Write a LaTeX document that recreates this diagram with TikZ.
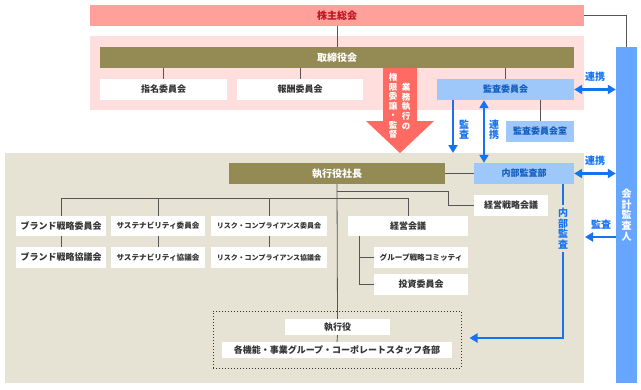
\documentclass[tikz,border=0pt]{standalone}
\usepackage{fontspec}
\setmainfont{Noto Sans CJK JP}
\usetikzlibrary{arrows.meta,positioning}
\definecolor{GSalmon}{RGB}{255,160,154}
\definecolor{GPink}{RGB}{255,222,222}
\definecolor{GBeige}{RGB}{230,226,212}
\definecolor{GOlive}{RGB}{148,138,84}
\definecolor{GLBlue}{RGB}{158,200,250}
\definecolor{GBlue}{RGB}{22,115,240}
\definecolor{GSky}{RGB}{102,166,255}
\definecolor{GRed}{RGB}{255,107,99}
\definecolor{GDRed}{RGB}{192,20,30}
\definecolor{GText}{RGB}{51,51,51}
\definecolor{GLine}{RGB}{85,85,85}

\begin{document}
\begin{tikzpicture}[
    x=1pt, y=-1pt,
    bar/.style={
      fill=GOlive,
      text=white,
      inner sep=0pt,
      minimum height=21pt,
      font=\bfseries\fontsize{10}{12}\selectfont
    },
    wbox/.style={
      fill=white,
      text=GText,
      inner sep=0pt,
      minimum height=21pt,
      font=\bfseries\fontsize{9}{11}\selectfont
    },
    bbox/.style={
      wbox,
      fill=GLBlue,
      text=GBlue!80!black
    },
    small/.style={font=\bfseries\fontsize{7.6}{9}\selectfont},
    link/.style={draw=GLine, line width=0.8pt},
    barrow/.style={draw=GBlue, line width=2.6pt, -{Triangle[length=8pt,width=9pt]}},
    dbarrow/.style={draw=GBlue, line width=2.6pt, {Triangle[length=8pt,width=9pt]}-{Triangle[length=8pt,width=9pt]}},
    blabel/.style={text=GBlue, inner sep=0pt, align=center, font=\bfseries\fontsize{10}{10}\selectfont}
  ]
    \fill[white] (0,0) rectangle (641,389);
    \useasboundingbox (0,0) rectangle (641,389);
    \fill[GPink] (90,36) rectangle (584,110);
    \fill[GBeige] (5,153) rectangle (584,383);

    \node[fill=GSalmon, text=GDRed, inner sep=0pt, minimum width=494pt, minimum height=21pt,
      font=\bfseries\fontsize{10}{12}\selectfont] (holders) at (337,15.5) {株主総会};
    \node[bar, minimum width=474pt] (board) at (337,57.5) {取締役会};
    \node[wbox, minimum width=127pt] (nominate) at (163.5,89.5) {指名委員会};
    \node[wbox, minimum width=126pt] (reward) at (300,89.5) {報酬委員会};
    \node[bbox, minimum width=137pt] (auditcom) at (505.5,89.5) {監査委員会};
    \node[bbox, minimum width=68pt] (auditroom) at (540,131.5) {監査委員会室};
    \node[fill=GSky, text=white, inner sep=0pt, minimum width=21pt, minimum height=336pt, align=center,
      font=\bfseries\fontsize{10}{10.8}\selectfont] (auditor) at (626.5,215) {会\\計\\監\\査\\人};

    \node[bar, minimum width=216pt] (president) at (337,173.5) {執行役社長};
    \node[bbox, minimum width=100pt] (internal) at (524,173.5) {内部監査部};
    \node[wbox, minimum width=74pt] (strategy) at (511,205.5) {経営戦略会議};
    \node[wbox, minimum width=90pt, minimum height=20pt] (brand1) at (61,226) {ブランド戦略委員会};
    \node[wbox, minimum width=90pt] (brand2) at (61,257.5) {ブランド戦略協議会};
    \node[wbox, small, minimum width=94pt, minimum height=20pt] (sust1) at (158,226) {サステナビリティ委員会};
    \node[wbox, small, minimum width=94pt] (sust2) at (158,257.5) {サステナビリティ協議会};
    \node[wbox, font=\bfseries\fontsize{7}{9}\selectfont, minimum width=116pt, minimum height=20pt] (risk1) at (269,226) {リスク・コンプライアンス委員会};
    \node[wbox, font=\bfseries\fontsize{7}{9}\selectfont, minimum width=116pt] (risk2) at (269,257.5) {リスク・コンプライアンス協議会};
    \node[wbox, minimum width=120pt, minimum height=20pt] (mgmt) at (408,226) {経営会議};
    \node[wbox, small, minimum width=94pt] (group) at (421,257.5) {グループ戦略コミッティ};
    \node[wbox, minimum width=94pt] (invest) at (421,284.5) {投資委員会};
    \node[draw=GText, dotted, line width=1pt, minimum width=248pt, minimum height=57pt] (execframe) at (337,339.5) {};
    \node[wbox, minimum width=105pt, minimum height=16pt] (officers) at (337.5,327) {執行役};
    \node[wbox, minimum width=230pt, minimum height=16pt] (divisions) at (337,350) {各機能・事業グループ・コーポレートスタッフ各部};

    \fill[GRed] (383,68) -- (417,68) -- (417,121) -- (434,121) -- (400,153) -- (366,121) -- (383,121) -- cycle;
    \node[text=white, inner sep=0pt, align=center, font=\bfseries\fontsize{8.5}{9.5}\selectfont] (delegate) at (393,106) {権\\限\\委\\譲\\・\\監\\督};
    \node[text=white, inner sep=0pt, align=center, font=\bfseries\fontsize{8.5}{9.8}\selectfont] (execute) at (406,106.5) {業\\務\\執\\行\\の};

    \draw[link] (holders) -- (board);
    \draw[link] (holders.east) -| (auditor.north);
    \draw[link] (nominate.north) -- (nominate.north |- board.south);
    \draw[link] (reward.north) -- (reward.north |- board.south);
    \draw[link] (auditcom.north) -- (auditcom.north |- board.south);
    \draw[link] (auditroom.north) -- (auditroom.north |- auditcom.south);
    \draw[link] (president.east) -- (internal.west);
    \draw[link] (president.south) -- (officers.north);
    \draw[link] (officers.south) -- (divisions.north);
    \draw[link] ([yshift=-7pt]president.south) -- ++(111,0) |- (strategy.west);
    \path (brand1.north) ++(0,-17) coordinate (bus);
    \draw[link] (brand1.north) -- (bus) -| (mgmt.north);
    \foreach \n in {sust1,risk1}
      \draw[link] (\n.north) -- (\n.north |- bus);
    \foreach \n in {brand,sust,risk}
      \draw[link] (\n1) -- (\n2);
    \draw[link] ([xshift=-49pt]mgmt.south) |- (group.west);
    \draw[link] ([xshift=-49pt]mgmt.south) |- (invest.west);

    \coordinate (exectop) at (453,153);
    \draw[barrow] ([xshift=-52.5pt]auditcom.south) -- (exectop);
    \node[blabel] (auditlbl) at (464,130) {監\\査};
    \draw[dbarrow] ([xshift=-21.5pt]auditcom.south) -- ([xshift=-40pt]internal.north);
    \node[blabel] (coop1) at (494,130) {連\\携};
    \draw[dbarrow] (auditcom.east) -- (auditcom.east -| auditor.west);
    \node[blabel] (coop2) at (595,77) {連携};
    \draw[dbarrow] (internal.east) -- (internal.east -| auditor.west);
    \node[blabel] (coop3) at (595,161) {連携};
    \draw[barrow] (auditor.west |- 0,237) -- (585,237);
    \node[blabel] (audit2) at (601,225) {監査};
    \draw[barrow] ([xshift=39pt]internal.south) -- (563,338) -- ([xshift=8pt]execframe.east |- 0,338);
    \node[blabel, fill=GBeige, inner sep=3pt, font=\bfseries\fontsize{10}{10.6}\selectfont] (internallbl) at (563,228.5) {内\\部\\監\\査};
  \end{tikzpicture}
\end{document}
